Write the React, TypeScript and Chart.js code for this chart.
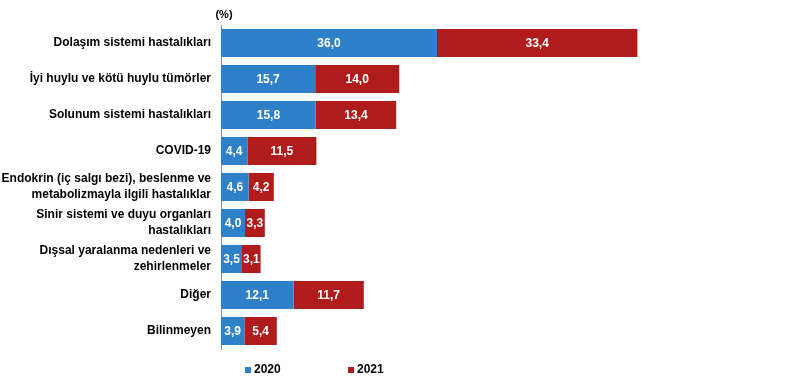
import React, { useEffect, useRef } from "react";
import { Chart, registerables } from "chart.js";

Chart.register(...registerables);

const categories: (string | string[])[] = [
  "Dolaşım sistemi hastalıkları",
  "İyi huylu ve kötü huylu tümörler",
  "Solunum sistemi hastalıkları",
  "COVID-19",
  ["Endokrin (iç salgı bezi), beslenme ve", "metabolizmayla ilgili hastalıklar"],
  ["Sinir sistemi ve duyu organları", "hastalıkları"],
  ["Dışsal yaralanma nedenleri ve", "zehirlenmeler"],
  "Diğer",
  "Bilinmeyen",
];

const values2020 = [36.0, 15.7, 15.8, 4.4, 4.6, 4.0, 3.5, 12.1, 3.9];
const values2021 = [33.4, 14.0, 13.4, 11.5, 4.2, 3.3, 3.1, 11.7, 5.4];
const seriesNames = ["2020", "2021"];
const unitLabel = "(%)";

const BLUE = "#2E80C8";
const RED = "#B01C1C";
const FONT = "'Liberation Sans', Arial, sans-serif";

const labelPlugin = {
  id: "barLabels",
  afterDatasetsDraw(chart: any) {
    const ctx = chart.ctx;
    ctx.save();
    ctx.fillStyle = "#ffffff";
    ctx.font = `bold 12px ${FONT}`;
    ctx.textAlign = "center";
    ctx.textBaseline = "middle";
    chart.data.datasets.forEach((ds: any, di: number) => {
      const meta = chart.getDatasetMeta(di);
      meta.data.forEach((bar: any, i: number) => {
        const v = ds.data[i];
        const cx = (bar.x + bar.base) / 2;
        ctx.fillText(v.toFixed(1).replace(".", ","), cx, bar.y + 1);
      });
    });
    ctx.restore();
  },
};

const extrasPlugin = {
  id: "extras",
  afterDraw(chart: any) {
    const ctx = chart.ctx;
    const area = chart.chartArea;
    ctx.save();
    ctx.fillStyle = "#000000";
    ctx.font = `bold 11px ${FONT}`;
    ctx.textAlign = "center";
    ctx.textBaseline = "middle";
    ctx.fillText(unitLabel, area.left + 3, 15);

    // legend
    const colors = [BLUE, RED];
    const offsets = [24, 127];
    const y = 370;
    ctx.font = `bold 12px ${FONT}`;
    ctx.textAlign = "left";
    seriesNames.forEach((name, i) => {
      const x = area.left + offsets[i];
      ctx.fillStyle = colors[i];
      ctx.fillRect(x, y - 3, 6, 6);
      ctx.fillStyle = "#000000";
      ctx.fillText(name, x + 9, y);
    });
    ctx.restore();
  },
};

export default function App() {
  const ref = useRef<HTMLCanvasElement>(null);
  useEffect(() => {
    if (!ref.current) return;
    const chart = new Chart(ref.current, {
      type: "bar",
      data: {
        labels: categories,
        datasets: [
          {
            label: seriesNames[0],
            data: values2020,
            backgroundColor: BLUE,
            categoryPercentage: 1,
            barPercentage: 0.78,
          },
          {
            label: seriesNames[1],
            data: values2021,
            backgroundColor: RED,
            categoryPercentage: 1,
            barPercentage: 0.78,
          },
        ],
      },
      options: {
        indexAxis: "y",
        animation: false,
        responsive: false,
        maintainAspectRatio: false,
        layout: { padding: { left: 0, right: 46, top: 25, bottom: 32 } },
        plugins: {
          legend: { display: false },
          tooltip: { enabled: false },
        },
        scales: {
          x: {
            type: "linear",
            stacked: true,
            min: 0,
            max: 90,
            display: false,
          },
          y: {
            stacked: true,
            afterFit: (scale: any) => {
              scale.width = 221;
            },
            grid: { display: false, drawTicks: false },
            border: { display: true, color: "#8c8c8c", width: 1 },
            ticks: {
              color: "#000000",
              padding: 10,
              font: { family: FONT, size: 12, weight: "bold", lineHeight: 1.35 },
            },
          },
        },
      },
      plugins: [labelPlugin, extrasPlugin],
    });
    return () => chart.destroy();
  }, []);
  return (
    <div style={{ position: "fixed", left: 0, top: 0, width: 807, height: 381, background: "#fff" }}>
      <canvas ref={ref} width={807} height={381} style={{ width: 807, height: 381, display: "block" }} />
    </div>
  );
}
